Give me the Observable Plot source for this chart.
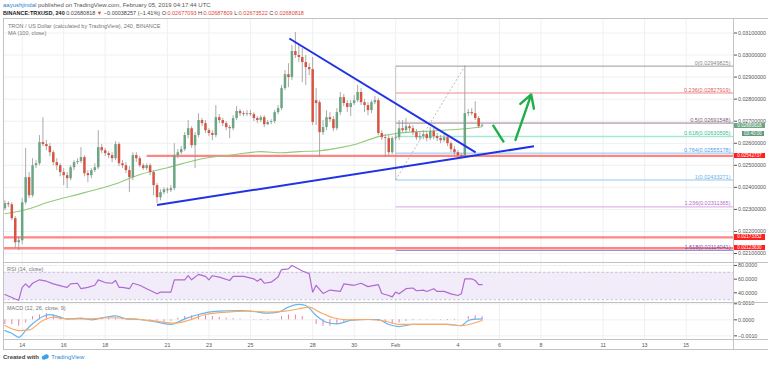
<!DOCTYPE html>
<html><head><meta charset="utf-8">
<script src="https://cdn.jsdelivr.net/npm/d3@7"></script>
<script src="https://cdn.jsdelivr.net/npm/@observablehq/plot@0.6"></script>
<style>
body{margin:0;background:#fff;font-family:"Liberation Sans",Arial,sans-serif;}
#wrap{position:relative;width:768px;height:365px;overflow:hidden;background:#fff}
#wrap svg{position:absolute;overflow:visible}
.t{position:absolute;white-space:nowrap;line-height:1}
.ln{position:absolute;background:#c3c3c3}
.box{position:absolute;color:#fff;font-size:4.6px;line-height:5.4px;height:5.4px;text-align:center}
</style></head><body><div id="wrap"></div>
<script>
// ---------- data ----------
const candleStart = "2019-01-13T04:00:00Z"; // first 4h candle
const open = [0.02303,0.02326,0.02321,0.02258,0.02149,0.02158,0.02330,0.02444,0.02362,0.02498,
0.02507,0.02603,0.02594,0.02585,0.02557,0.02512,0.02498,0.02467,0.02453,0.02439,
0.02489,0.02512,0.02517,0.02535,0.02462,0.02453,0.02476,0.02489,0.02580,0.02566,
0.02553,0.02544,0.02530,0.02594,0.02507,0.02498,0.02476,0.02444,0.02544,0.02530,
0.02498,0.02485,0.02498,0.02467,0.02408,0.02353,0.02376,0.02389,0.02385,0.02394,
0.02544,0.02557,0.02571,0.02635,0.02666,0.02589,0.02635,0.02703,0.02689,0.02657,
0.02644,0.02635,0.02716,0.02703,0.02689,0.02671,0.02666,0.02712,0.02744,0.02734,
0.02730,0.02734,0.02730,0.02712,0.02703,0.02716,0.02684,0.02694,0.02698,0.02739,
0.02757,0.02848,0.02911,0.02898,0.03016,0.02998,0.02989,0.02966,0.02943,0.02934,
0.02793,0.02784,0.02648,0.02671,0.02716,0.02707,0.02666,0.02739,0.02807,0.02780,
0.02762,0.02780,0.02793,0.02830,0.02784,0.02771,0.02748,0.02784,0.02793,0.02644,
0.02625,0.02621,0.02557,0.02621,0.02625,0.02666,0.02657,0.02675,0.02666,0.02648,
0.02625,0.02630,0.02639,0.02621,0.02653,0.02630,0.02621,0.02612,0.02625,0.02598,
0.02571,0.02557,0.02544,0.02539,0.02734,0.02739,0.02734,0.02712,0.02677];
const close = [0.02326,0.02321,0.02258,0.02149,0.02158,0.02330,0.02444,0.02362,0.02498,0.02507,
0.02603,0.02594,0.02585,0.02557,0.02512,0.02498,0.02467,0.02453,0.02439,0.02489,
0.02512,0.02517,0.02535,0.02462,0.02453,0.02476,0.02489,0.02580,0.02566,0.02553,
0.02544,0.02530,0.02594,0.02507,0.02498,0.02476,0.02444,0.02544,0.02530,0.02498,
0.02485,0.02498,0.02467,0.02408,0.02353,0.02376,0.02389,0.02385,0.02394,0.02544,
0.02557,0.02571,0.02635,0.02666,0.02589,0.02635,0.02703,0.02689,0.02657,0.02644,
0.02635,0.02716,0.02703,0.02689,0.02671,0.02666,0.02712,0.02744,0.02734,0.02730,
0.02734,0.02730,0.02712,0.02703,0.02716,0.02684,0.02694,0.02698,0.02739,0.02757,
0.02848,0.02911,0.02898,0.03016,0.02998,0.02989,0.02966,0.02943,0.02934,0.02694,
0.02780,0.02648,0.02671,0.02716,0.02707,0.02666,0.02739,0.02807,0.02780,0.02762,
0.02780,0.02793,0.02830,0.02784,0.02771,0.02748,0.02784,0.02793,0.02644,0.02625,
0.02621,0.02557,0.02621,0.02625,0.02666,0.02657,0.02675,0.02666,0.02648,0.02625,
0.02630,0.02639,0.02621,0.02653,0.02630,0.02621,0.02612,0.02625,0.02598,0.02571,
0.02557,0.02544,0.02539,0.02734,0.02739,0.02734,0.02712,0.02675,0.02681];
const high = [0.02339,0.02335,0.02330,0.02267,0.02176,0.02349,0.02576,0.02467,0.02530,0.02521,
0.02635,0.02716,0.02612,0.02598,0.02566,0.02530,0.02507,0.02485,0.02467,0.02498,
0.02521,0.02530,0.02580,0.02544,0.02476,0.02485,0.02507,0.02657,0.02594,0.02576,
0.02562,0.02557,0.02607,0.02603,0.02521,0.02512,0.02494,0.02557,0.02557,0.02539,
0.02507,0.02507,0.02507,0.02476,0.02417,0.02389,0.02398,0.02398,0.02408,0.02598,
0.02571,0.02585,0.02648,0.02703,0.02675,0.02648,0.02734,0.02712,0.02703,0.02666,
0.02657,0.02771,0.02730,0.02712,0.02698,0.02680,0.02725,0.02766,0.02753,0.02744,
0.02748,0.02748,0.02739,0.02721,0.02725,0.02725,0.02703,0.02707,0.02748,0.02771,
0.02862,0.02930,0.02961,0.03043,0.03102,0.03043,0.03030,0.02998,0.02961,0.02989,
0.02848,0.02793,0.02703,0.02748,0.02739,0.02721,0.02757,0.02830,0.02821,0.02793,
0.02793,0.02816,0.02862,0.02848,0.02798,0.02784,0.02793,0.02812,0.02803,0.02657,
0.02639,0.02635,0.02630,0.02644,0.02703,0.02703,0.02712,0.02684,0.02680,0.02662,
0.02648,0.02657,0.02653,0.02671,0.02666,0.02644,0.02635,0.02639,0.02635,0.02607,
0.02585,0.02566,0.02553,0.02950,0.02753,0.02757,0.02789,0.02721,0.02688];
const low = [0.02294,0.02308,0.02249,0.02122,0.02112,0.02140,0.02321,0.02349,0.02353,0.02485,
0.02498,0.02585,0.02566,0.02539,0.02498,0.02476,0.02448,0.02408,0.02394,0.02430,
0.02476,0.02503,0.02507,0.02448,0.02421,0.02439,0.02467,0.02480,0.02553,0.02539,
0.02530,0.02512,0.02521,0.02494,0.02485,0.02462,0.02376,0.02430,0.02512,0.02489,
0.02476,0.02476,0.02453,0.02362,0.02326,0.02339,0.02367,0.02371,0.02376,0.02385,
0.02530,0.02548,0.02562,0.02621,0.02576,0.02485,0.02625,0.02675,0.02644,0.02630,
0.02612,0.02625,0.02689,0.02675,0.02657,0.02621,0.02657,0.02703,0.02721,0.02721,
0.02721,0.02721,0.02698,0.02689,0.02694,0.02671,0.02680,0.02684,0.02689,0.02730,
0.02748,0.02839,0.02852,0.02884,0.02984,0.02966,0.02875,0.02862,0.02907,0.02680,
0.02680,0.02535,0.02635,0.02657,0.02694,0.02653,0.02657,0.02725,0.02766,0.02739,
0.02721,0.02771,0.02784,0.02771,0.02739,0.02725,0.02734,0.02775,0.02635,0.02612,
0.02535,0.02539,0.02548,0.02612,0.02612,0.02648,0.02644,0.02653,0.02635,0.02612,
0.02612,0.02616,0.02607,0.02612,0.02616,0.02607,0.02598,0.02603,0.02585,0.02557,
0.02544,0.02535,0.02530,0.02535,0.02721,0.02725,0.02703,0.02666,0.02674];

// MA(100) sampled at candle indices
const maIdx = [0,7,12,23,33,38,47,57,66,74,80,85,91,97,102,108,113,124,133,138];
const maVal = [0.02280,0.02303,0.02330,0.02376,0.02421,0.02453,0.02489,0.02530,0.02548,0.02562,0.02557,0.02562,0.02566,0.02580,0.02598,0.02630,0.02644,0.02657,0.02666,0.02675];

// RSI(14)
const rsiIdx = [0,3,4,5,6,7,8,10,12,14,17,18,19,21,22,24,26,27,29,31,32,33,34,36,37,39,41,44,45,48,49,52,53,54,56,58,59,60,62,65,66,69,72,73,74,75,77,79,80,82,83,84,86,88,89,90,92,94,97,98,101,103,105,108,109,111,112,113,114,116,118,119,121,122,124,125,127,129,131,132,133,135,136,137,138];
const rsiVal = [37.5,31,29,48,53,48,54,59,57,53,49,48,53,54,46,48,51,59,55,54,58,48,48,46,54,51,46,38.5,41,41,59,59,65,59,67,64,59,65,63,58,64,64,60.5,57,60.5,54,55.5,63,74,75,80,77.5,72,68,41,51,39,44,42,53,51,54,49,52,39,36,34,41,38.5,46,47,43,44,42,46,42,42,38.5,36,38.5,60.5,60.5,58,52,52];

// MACD (12, 26, close, 9)
const macdIdx = [0,2,4,6,8,11,13,16,18,22,25,29,32,35,39,44,48,52,56,59,62,68,72,76,79,82,85,87,90,93,96,100,105,108,111,114,118,124,128,132,134,136,138];
const macdVal = [-0.00067,-0.00084,-0.00109,-0.00067,-0.00025,0.00021,0.00033,0.00016,0.00004,0.0001,0,0.00016,0.00025,0.00006,0.00002,-0.00015,-0.00029,0.00006,0.00033,0.00048,0.00054,0.00058,0.00052,0.00041,0.00048,0.00079,0.00096,0.00089,0.00027,-0.00015,-0.00025,-0.00004,0.00002,0.00002,-0.00029,-0.00042,-0.00029,-0.00029,-0.00029,-0.00036,-0.00004,0.00004,0.00006];
const signalIdx = [0,4,7,11,14,18,24,30,37,44,49,53,58,64,70,76,81,85,88,91,95,99,105,110,114,120,128,132,138];
const signalVal = [-0.00036,-0.00067,-0.00063,-0.00004,0.00016,0.00006,0.00006,0.00013,0.00006,-0.00009,-0.00021,-0.00004,0.00033,0.00048,0.00054,0.00048,0.00054,0.00069,0.00079,0.00048,0.00013,0,0.00002,-0.00009,-0.00029,-0.00029,-0.00029,-0.00036,-0.00004];
const histIdx = [0,2,4,6,8,10,12,14,16,18,20,22,24,26,28,30,32,34,36,38,40,42,44,46,48,50,52,54,56,58,60,62,64,66,68,70,72,74,76,78,80,82,84,86,88,90,92,94,96,98,100,102,104,106,108,110,112,114,116,118,120,122,124,126,128,130,132,134,136,138];
const histVal = [-0.0003,-0.0003,-0.0004,-0.0002,0.0002,0.0003,0.0004,0.0003,0.0002,0,0.00005,0.00005,-0.00005,0.00005,0.0001,0.0001,0.0001,0.00005,0,-0.00005,-0.00005,-0.0001,-0.0001,-0.00015,-0.0001,0.0001,0.0002,0.00025,0.0003,0.00025,0.0002,0.00015,0.0001,0.00008,0.00005,0,-0.00003,-0.00005,-0.00005,0,0.0002,0.0003,0.0003,0.0002,0,-0.0003,-0.0004,-0.0004,-0.0003,-0.00015,-0.00005,0,0,0,-0.0001,-0.0002,-0.00025,-0.0002,-0.0001,-0.00005,-0.00003,-0.00002,-0.00002,-0.00003,-0.00005,-0.00005,0,0.0002,0.00025,0.0002];

// Fibonacci retracement (drawn from Feb 1 low to Feb 4 high)
const fibLevels = ["0","0.236","0.5","0.618","0.764","1","1.236","1.618"];
const fibPrices = [0.02949825,0.02827919,0.02691548,0.02630595,0.02555178,0.02433271,0.02311365,0.02114041];
const fibLineColors = ["#9a9a9a","#ef8a8a","#9b7f92","#a6e8cf","#8cc4f2","#b7daf7","#d6a3e2","#8d86dc"];
const fibTextColors = ["#8a8a8a","#e0605f","#7e5e74","#38c08f","#4d9ee6","#6aaee6","#b46ad0","#5a4fc4"];
const fibFrom = "2019-02-01T00:00:00Z";
const fibTo = "2019-02-04T08:00:00Z";

// horizontal red levels
const redPrices = [0.02542737,0.02173352,0.0212363];
const redFrom = ["2019-01-20T00:00:00Z","2019-01-13T02:23:00Z","2019-01-13T02:23:00Z"];

// drawn trend lines
const trendFrom = ["2019-01-26T21:00:00Z","2019-01-20T12:00:00Z"];
const trendFromPrice = [0.03075,0.02320];
const trendTo = ["2019-02-04T20:30:00Z","2019-02-07T16:00:00Z"];
const trendToPrice = [0.02559,0.02586];

// projected path (green)
const pathFrom = ["2019-02-05T16:24:00Z","2019-02-06T18:36:00Z"];
const pathFromPrice = [0.02683,0.02615];
const pathTo = ["2019-02-06T05:12:00Z","2019-02-07T12:48:00Z"];
const pathToPrice = [0.02604,0.02821];

// axes
const xStart = "2019-01-13T02:23:00Z", xEnd = "2019-02-17T06:48:00Z";
const dateTicks = ["2019-01-14","2019-01-16","2019-01-18","2019-01-21","2019-01-23","2019-01-25","2019-01-28","2019-01-30","2019-02-01","2019-02-04","2019-02-06","2019-02-08","2019-02-11","2019-02-13","2019-02-15"];
const dateLabels = ["14","16","18","21","23","25","28","30","Feb","4","6","8","11","13","15"];
const priceTicks = [0.021,0.022,0.023,0.024,0.025,0.026,0.027,0.028,0.029,0.030,0.031];
const rsiTicks = [40,60,80];
const macdTicks = [-0.001,0,0.001];
const lastPrice = 0.02680818;
const countdown = "03:40:00";

// ---------- build ----------
const FONT = '"Liberation Sans", Arial, sans-serif';
const UP = "#6ba583", DOWN = "#d75442";
const H4 = 4*3600*1000;
const T0 = new Date(candleStart).getTime();
const tOf = i => new Date(T0 + i*H4);
const D = s => new Date(s);
const xDomain = [D(xStart), D(xEnd)];
const tickDates = dateTicks.map(s => D(s + "T00:00:00Z"));
const candles = open.map((o,i)=>({t:tOf(i), o, c:close[i], h:high[i], l:low[i], col: close[i]>=o?UP:DOWN}));
const ma = maIdx.map((k,i)=>({t:tOf(k), v:maVal[i]}));
const rsi = rsiIdx.map((k,i)=>({t:tOf(k), v:rsiVal[i]}));
const macd = macdIdx.map((k,i)=>({t:tOf(k), v:macdVal[i]}));
const sig = signalIdx.map((k,i)=>({t:tOf(k), v:signalVal[i]}));
const hist = histIdx.map((k,i)=>({t:tOf(k), v:histVal[i]}));
const fib = fibLevels.map((l,i)=>({lvl:l, p:fibPrices[i], lc:fibLineColors[i], tc:fibTextColors[i], x1:D(fibFrom), x2:xDomain[1]}));
const reds = redPrices.map((p,i)=>({p, x1:D(redFrom[i]), x2:xDomain[1]}));
const trends = trendFrom.map((s,i)=>({x1:D(s), y1:trendFromPrice[i], x2:D(trendTo[i]), y2:trendToPrice[i]}));
const paths = pathFrom.map((s,i)=>({x1:D(s), y1:pathFromPrice[i], x2:D(pathTo[i]), y2:pathToPrice[i]}));

const W = 765, AXW = 35;
const wrap = document.getElementById("wrap");
const baseX = {type:"utc", domain:xDomain};
const gridCol = "#eef0f3";

const main = Plot.plot({
  width:W, height:245, marginLeft:0, marginRight:AXW, marginTop:0, marginBottom:0,
  style:{fontFamily:FONT, fontSize:"5.3px", color:"#555", background:"transparent", overflow:"visible"},
  color:{type:"identity"},
  x:{...baseX, axis:null},
  y:{domain:[0.0205465,0.0316576], axis:"right", ticks:priceTicks, tickFormat:d3.format(".8f"), tickSize:3, tickPadding:1.5, label:null},
  marks:[
    Plot.ruleY(priceTicks,{stroke:gridCol}),
    Plot.ruleX(tickDates,{stroke:gridCol}),
    ...fib.map(f=>Plot.link([f],{x1:"x1",x2:"x2",y1:"p",y2:"p",stroke:f.lc,strokeWidth:(f.lvl==="0.618"||f.lvl==="1")?1.6:1})),
    Plot.link([{x:D(fibFrom), a:fibPrices[5], b:fibPrices[0]}],{x1:"x",x2:"x",y1:"a",y2:"b",stroke:"#c8c8c8",strokeWidth:1}),
    Plot.link([{x1:D(fibFrom), y1:fibPrices[5], x2:D(fibTo), y2:fibPrices[0]}],{x1:"x1",y1:"y1",x2:"x2",y2:"y2",stroke:"#a8a8a8",strokeWidth:0.8,strokeDasharray:"2,2"}),
    Plot.link(reds,{x1:"x1",x2:"x2",y1:"p",y2:"p",stroke:"#ff6e6e",strokeWidth:2.4,strokeOpacity:0.85}),
    Plot.line(ma,{x:"t",y:"v",stroke:"#93c97a",strokeWidth:1.1,curve:"monotone-x"}),
    Plot.ruleX(candles,{x:"t",y1:"l",y2:"h",stroke:"#969696",strokeWidth:0.8}),
    Plot.ruleX(candles,{x:"t",y1:"o",y2:"c",stroke:"col",strokeWidth:2.5}),
    Plot.link(trends,{x1:"x1",y1:"y1",x2:"x2",y2:"y2",stroke:"#2032e6",strokeWidth:2}),
    Plot.link([paths[0]],{x1:"x1",y1:"y1",x2:"x2",y2:"y2",stroke:"#1fae48",strokeWidth:2.4}),
    Plot.arrow([paths[1]],{x1:"x1",y1:"y1",x2:"x2",y2:"y2",stroke:"#1fae48",strokeWidth:2.4,headLength:9,insetEnd:0}),
    Plot.text(fib,{x:"x2",y:"p",text:d=>`${d.lvl}(${d3.format(".8f")(d.p)})`,fill:"tc",textAnchor:"end",dx:-3,dy:-3.2,fontSize:5.5})
  ]
});
main.style.left="3px"; main.style.top="18px";
wrap.appendChild(main);

const rsiPlot = Plot.plot({
  width:W, height:39, marginLeft:0, marginRight:AXW, marginTop:0, marginBottom:0,
  style:{fontFamily:FONT, fontSize:"5.3px", color:"#555", background:"transparent", overflow:"visible"},
  x:{...baseX, axis:null},
  y:{domain:[25.8,82.9], axis:"right", ticks:rsiTicks, tickFormat:d3.format(".4f"), tickSize:3, tickPadding:1.5, label:null},
  marks:[
    Plot.rectY([{a:30,b:70}],{y1:"a",y2:"b",fill:"#9b6ddb",fillOpacity:0.13}),
    Plot.ruleY(rsiTicks,{stroke:gridCol}),
    Plot.ruleX(tickDates,{stroke:gridCol}),
    Plot.ruleY([30,70],{stroke:"#b9b9c8",strokeDasharray:"2.5,2",strokeWidth:0.8}),
    Plot.line(rsi,{x:"t",y:"v",stroke:"#b169d2",strokeWidth:1.2})
  ]
});
rsiPlot.style.left="3px"; rsiPlot.style.top="263px";
wrap.appendChild(rsiPlot);

const macdPlot = Plot.plot({
  width:W, height:48, marginLeft:0, marginRight:AXW, marginTop:0, marginBottom:10,
  style:{fontFamily:FONT, fontSize:"5.3px", color:"#555", background:"transparent", overflow:"visible"},
  x:{...baseX, axis:"bottom", ticks:tickDates, tickFormat:d=>dateLabels[tickDates.findIndex(t=>+t===+d)], tickSize:0, tickPadding:2.5, label:null},
  y:{domain:[-0.00129,0.00108], axis:"right", ticks:macdTicks, tickFormat:d3.format(".4f"), tickSize:3, tickPadding:1.5, label:null},
  marks:[
    Plot.ruleY(macdTicks,{stroke:gridCol}),
    Plot.ruleX(tickDates,{stroke:gridCol}),
    Plot.ruleX(hist,{x:"t",y1:0,y2:"v",stroke:"#f06c9b",strokeWidth:1,strokeOpacity:0.9}),
    Plot.line(macd,{x:"t",y:"v",stroke:"#63b5f3",strokeWidth:1.2,curve:"monotone-x"}),
    Plot.line(sig,{x:"t",y:"v",stroke:"#fba865",strokeWidth:1.2,curve:"monotone-x"})
  ]
});
macdPlot.style.left="3px"; macdPlot.style.top="302px";
wrap.appendChild(macdPlot);

// frame lines
function line(x,y,w,h,c){const d=document.createElement("div");d.className="ln";d.style.cssText=`left:${x}px;top:${y}px;width:${w}px;height:${h}px;${c?"background:"+c:""}`;wrap.appendChild(d);}
line(3,17.5,765,1);
line(2.5,17.5,1,332);
line(732.5,17.5,1,332);
line(3,262,765,1.3);
line(3,301.6,765,1.3);
line(3,339,765,1.3);
line(3,348.7,765,1.3);

// texts
function text(x,y,html,style){const d=document.createElement("div");d.className="t";d.style.cssText=`left:${x}px;top:${y}px;${style||""}`;d.innerHTML=html;wrap.appendChild(d);}
text(3,2,'<span style="color:#2a7fd4">aayushjindal</span> published on TradingView.com, February 05, 2019 04:17:44 UTC',"font-size:6px;color:#555");
const red = s=>`<span style="color:#e0473c">${s}</span>`;
text(3,10.5,`<b style="color:#222">BINANCE:TRXUSD, 240</b> 0.02680818 ${red("▼")} −0.00038257 (−1.41%) O:${red("0.02677093")} H:${red("0.02687809")} L:${red("0.02673522")} C:${red("0.02680818")}`,"font-size:5.5px;color:#444");
text(8,24,"TRON / US Dollar (calculated by TradingView), 240, BINANCE","font-size:5.5px;color:#777");
text(8,31,"MA (100, close)","font-size:5.5px;color:#777");
text(7,267,"RSI (14, close)","font-size:5.5px;color:#777");
text(7,306,"MACD (12, 26, close, 9)","font-size:5.5px;color:#777");
text(3,354,'<b>Created with</b> <svg width="9" height="6" viewBox="0 0 9 6" style="position:static;vertical-align:-1px"><circle cx="3" cy="3.6" r="2.2" fill="#3ba2e8"/><circle cx="5.4" cy="2.6" r="2.4" fill="#3ba2e8"/></svg> <span style="color:#2a8ad8">TradingView</span>',"font-size:6px;color:#444");

// price-axis value boxes, placed with the y scale
const ys = main.scale("y");
function box(p, label, bg, dy, left, width){
  const y = 18 + ys.apply(p) + (dy||0);
  const d=document.createElement("div");d.className="box";
  d.style.cssText=`left:${left||734}px;top:${y-2.7}px;width:${width||31}px;background:${bg}`;
  d.textContent=label;wrap.appendChild(d);
}
box(lastPrice, d3.format(".8f")(lastPrice), UP, 0.8);
box(lastPrice, countdown, "#5f9b7b", 8.3, 742, 22);
redPrices.forEach(p=>box(p, d3.format(".8f")(p), "#ff1f1f", 0));
</script></body></html>
